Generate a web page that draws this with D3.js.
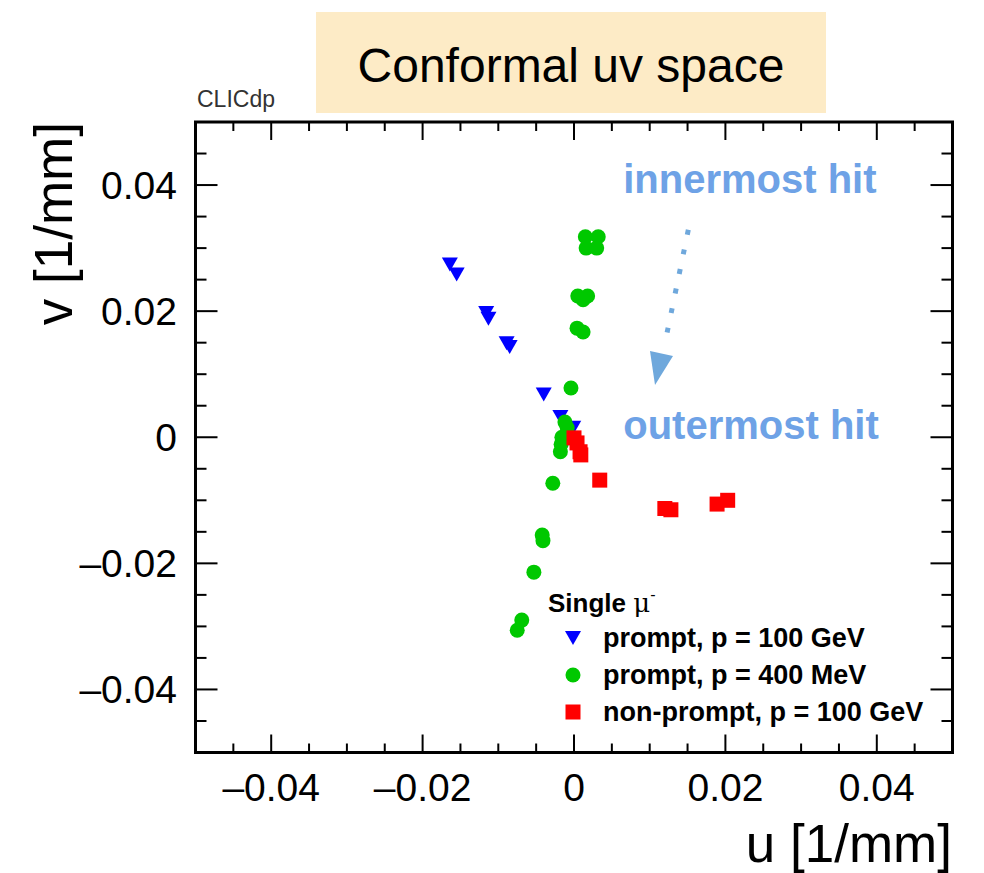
<!DOCTYPE html>
<html>
<head>
<meta charset="utf-8">
<script src="https://cdn.jsdelivr.net/npm/d3@7"></script>
<style>
  html, body { margin: 0; padding: 0; background: #fff; }
  svg { display: block; font-family: "Liberation Sans", Arial, Helvetica, sans-serif; }
</style>
</head>
<body>
<svg id="chart" width="984" height="873"></svg>
<script>
// ---- data (u, v in 1/mm) ----
const promptHighU = [-0.0164, -0.0155, -0.0116, -0.0113, -0.0089, -0.0085, -0.0040, -0.0018, -0.0001];
const promptHighV = [ 0.0274,  0.0258,  0.0197,  0.0188,  0.0149,  0.0143,  0.0068,  0.0032,  0.0015];

const promptLowU = [0.0015, 0.0032, 0.0016, 0.0030, 0.0005, 0.0018, 0.0012, 0.0004, 0.0012, -0.0004,
                    -0.0012, -0.0009, -0.0016, -0.0017, -0.0018, -0.0028, -0.0042, -0.0041, -0.0053, -0.0069, -0.0075];
const promptLowV = [0.0318, 0.0318, 0.0300, 0.0300, 0.0224, 0.0224, 0.0218, 0.0173, 0.0167, 0.0078,
                    0.0024, 0.0015, 0.0000, -0.0011, -0.0023, -0.0073, -0.0155, -0.0164, -0.0214, -0.0290, -0.0306];

const nonPromptU = [0.0000, 0.0004, 0.0008, 0.0009, 0.0034, 0.0120, 0.0128, 0.0189, 0.0203];
const nonPromptV = [-0.0001, -0.0009, -0.0023, -0.0028, -0.0068, -0.0113, -0.0115, -0.0106, -0.0100];

const xTicks = [-0.04, -0.02, 0, 0.02, 0.04];
const yTicks = [-0.04, -0.02, 0, 0.02, 0.04];
const xDomain = [-0.05, 0.05];
const yDomain = [-0.05, 0.05];

const legendTitle = "Single ";
const legendLabels = ["prompt, p = 100 GeV", "prompt, p = 400 MeV", "non-prompt, p = 100 GeV"];
const titleText = "Conformal uv space";
const xLabel = "u [1/mm]";
const yLabel = "v [1/mm]";
const innerText = "innermost hit";
const outerText = "outermost hit";
// annotation anchor points in data coords
const arrowStart = [0.0151, 0.0329];
const arrowEnd = [0.0123, 0.0166];
const arrowTip = [0.0107, 0.0083];
const innerPos = [0.0065, 0.0388];
const outerPos = [0.0065, -0.0002];

// ---- layout ----
const svg = d3.select("#chart");
const L = 195.5, R = 952.5, T = 122, B = 752.5;
const x = d3.scaleLinear().domain(xDomain).range([L, R]);
const y = d3.scaleLinear().domain(yDomain).range([B, T]);

const BLUE = "#0000ff", GREEN = "#00c800", RED = "#ff0000", ANNO = "#6ea2e6";

// title box
svg.append("rect").attr("x", 316).attr("y", 12).attr("width", 510).attr("height", 101)
  .attr("fill", "#fdebc6");
svg.append("text").attr("x", 571).attr("y", 82).attr("text-anchor", "middle")
  .attr("font-size", 48).attr("fill", "#000").text(titleText);

svg.append("text").attr("x", 197).attr("y", 107).attr("font-size", 23)
  .attr("fill", "#333").text("CLICdp");

// markers
function triDown(g, cx, cy, color) {
  const w = 16, h = 14;
  g.append("path")
    .attr("d", `M${cx - w/2},${cy - h/2} L${cx + w/2},${cy - h/2} L${cx},${cy + h/2} Z`)
    .attr("fill", color);
}
function circ(g, cx, cy, color) {
  g.append("circle").attr("cx", cx).attr("cy", cy).attr("r", 7.5).attr("fill", color);
}
function sq(g, cx, cy, color) {
  const s = 15;
  g.append("rect").attr("x", cx - s/2).attr("y", cy - s/2).attr("width", s).attr("height", s).attr("fill", color);
}

const plot = svg.append("g");
promptHighU.forEach((u, i) => triDown(plot, x(u), y(promptHighV[i]), BLUE));
promptLowU.forEach((u, i) => circ(plot, x(u), y(promptLowV[i]), GREEN));
nonPromptU.forEach((u, i) => sq(plot, x(u), y(nonPromptV[i]), RED));

// frame and ticks (major every 0.02, minor every 0.005)
const axes = svg.append("g").attr("stroke", "#000");
const minorSteps = d3.range(-9, 10); // multiples of 0.005
minorSteps.forEach(k => {
  const v = k * 0.005;
  const big = k % 4 === 0;
  const lx = big ? 18 : 9;
  const ly = big ? 22 : 11;
  axes.append("line").attr("x1", x(v)).attr("x2", x(v)).attr("y1", B).attr("y2", B - lx).attr("stroke-width", 2);
  axes.append("line").attr("x1", x(v)).attr("x2", x(v)).attr("y1", T).attr("y2", T + lx).attr("stroke-width", 2);
  axes.append("line").attr("y1", y(v)).attr("y2", y(v)).attr("x1", L).attr("x2", L + ly).attr("stroke-width", 2);
  axes.append("line").attr("y1", y(v)).attr("y2", y(v)).attr("x1", R).attr("x2", R - ly).attr("stroke-width", 2);
});
svg.append("rect").attr("x", L).attr("y", T).attr("width", R - L).attr("height", B - T)
  .attr("fill", "none").attr("stroke", "#000").attr("stroke-width", 3);

// tick labels
const fmt = v => v === 0 ? "0" : (v < 0 ? "–" : "") + Math.abs(v).toFixed(2);
svg.append("g").selectAll("text").data(xTicks).join("text")
  .attr("x", d => x(d)).attr("y", 801).attr("text-anchor", "middle")
  .attr("font-size", 39).attr("fill", "#000").text(fmt);
svg.append("g").selectAll("text").data(yTicks).join("text")
  .attr("x", 177).attr("y", d => y(d) + 14).attr("text-anchor", "end")
  .attr("font-size", 39).attr("fill", "#000").text(fmt);

// axis labels
svg.append("text").attr("x", 952).attr("y", 862).attr("text-anchor", "end")
  .attr("font-size", 53).attr("fill", "#000").text(xLabel);
svg.append("text").attr("transform", `translate(72,122) rotate(-90)`).attr("text-anchor", "end")
  .attr("font-size", 53).attr("fill", "#000").text(yLabel);

// annotations
svg.append("text").attr("x", x(innerPos[0])).attr("y", y(innerPos[1]))
  .attr("font-size", 40).attr("font-weight", "bold").attr("fill", ANNO).text(innerText);
svg.append("text").attr("x", x(outerPos[0])).attr("y", y(outerPos[1]))
  .attr("font-size", 40).attr("font-weight", "bold").attr("fill", ANNO).text(outerText);
svg.append("line")
  .attr("x1", x(arrowStart[0])).attr("y1", y(arrowStart[1]))
  .attr("x2", x(arrowEnd[0])).attr("y2", y(arrowEnd[1]))
  .attr("stroke", "#6fa8dc").attr("stroke-width", 5).attr("stroke-dasharray", "5 15");
{
  const tx = x(arrowTip[0]), ty = y(arrowTip[1]);
  svg.append("path")
    .attr("d", `M${tx},${ty} L${tx - 5},${ty - 34} L${tx + 18},${ty - 29} Z`)
    .attr("fill", "#6fa8dc");
}

// legend
const lg = svg.append("g");
const lt = lg.append("text").attr("x", 548).attr("y", 612).attr("font-size", 26).attr("font-weight", "bold").attr("fill", "#000");
lt.append("tspan").text(legendTitle);
lt.append("tspan").attr("font-weight", "normal").attr("font-family", "DejaVu Serif, serif").attr("font-size", 26).text("μ");
lt.append("tspan").attr("font-weight", "normal").attr("font-size", 16).attr("dy", -12).text("-");
const rowY = [638, 675, 712];
triDown(lg, 573, rowY[0], BLUE);
circ(lg, 573, rowY[1], GREEN);
sq(lg, 573, rowY[2], RED);
lg.selectAll("text.entry").data(legendLabels).join("text").attr("class", "entry")
  .attr("x", 603).attr("y", (d, i) => rowY[i] + 9).attr("font-size", 27).attr("font-weight", "bold")
  .attr("fill", "#000").text(d => d);
</script>
</body>
</html>
